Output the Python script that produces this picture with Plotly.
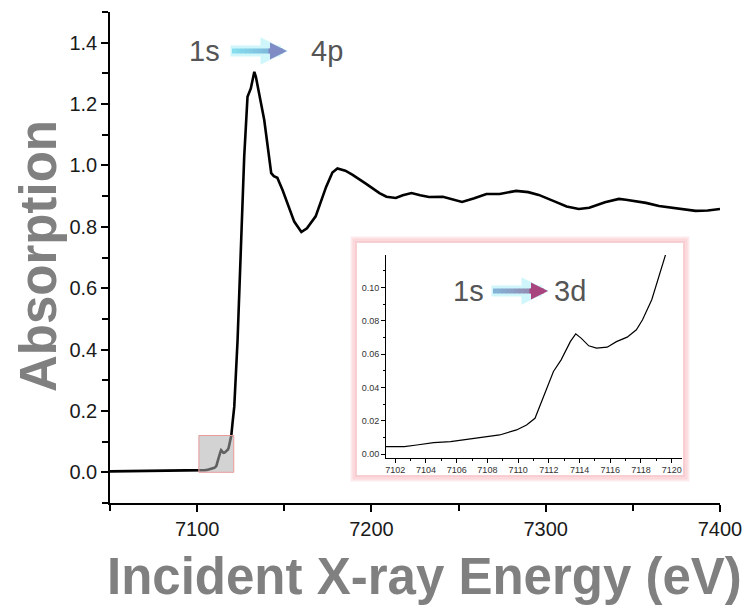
import plotly.graph_objects as go

W, H = 744, 608

# ---------------- data ----------------
energy_ev = [7050, 7070, 7090, 7101.4, 7102.6, 7103.4, 7104.5, 7105.6, 7106.4, 7107.7,
             7108.8, 7109.9, 7110.55, 7111.1, 7111.5, 7112.0, 7112.3, 7112.8, 7113.4, 7113.75,
             7114.1, 7114.6, 7115.1, 7115.8, 7116.4, 7117.1, 7117.7, 7118.1, 7118.7, 7119.1,
             7119.6, 7120.3, 7121.3, 7123.2, 7125.1, 7127.0, 7128.9, 7130.8, 7132.8, 7133.7,
             7138.5, 7142.5, 7144, 7146, 7149, 7155.7, 7159.8, 7163, 7168, 7174,
             7177.6, 7180.5, 7185, 7189, 7197, 7204.6, 7208.6, 7214, 7218, 7223,
             7228, 7233, 7241, 7246, 7252, 7259, 7266, 7273.6, 7283, 7290,
             7296, 7305, 7312, 7319, 7325, 7334, 7342, 7346, 7357.5, 7365,
             7372.4, 7380, 7386, 7393, 7400]
absorption = [0.003, 0.004, 0.004, 0.0046, 0.0046, 0.0056, 0.0070, 0.0076, 0.0086, 0.0102,
              0.0116, 0.0146, 0.0176, 0.0216, 0.0306, 0.0426, 0.0496, 0.0566, 0.0675, 0.0722,
              0.0696, 0.0650, 0.0636, 0.0642, 0.0675, 0.0702, 0.0746, 0.0806, 0.0926, 0.1046,
              0.1196, 0.160, 0.214, 0.431, 0.757, 1.028, 1.224, 1.251, 1.305, 1.289,
              1.148, 0.975, 0.965, 0.960, 0.920, 0.817, 0.783, 0.795, 0.834, 0.930,
              0.977, 0.990, 0.983, 0.970, 0.940, 0.910, 0.898, 0.894, 0.903, 0.910,
              0.903, 0.897, 0.898, 0.891, 0.881, 0.893, 0.907, 0.907, 0.917, 0.913,
              0.904, 0.883, 0.866, 0.858, 0.862, 0.880, 0.891, 0.888, 0.878, 0.868,
              0.862, 0.855, 0.852, 0.853, 0.858]

main_x_range = [7050, 7400]
main_y_range = [-0.1, 1.5]
inset_x_range = [7101.4, 7120.65]
inset_y_range = [-0.0019, 0.1194]
zoom_box_x = [7101, 7121]
zoom_box_y = [0.0, 0.12]

main_title_x = "Incident X-ray Energy (eV)"
main_title_y = "Absorption"
label_4p = ("1s", "4p")
label_3d = ("1s", "3d")

FONT = "Liberation Sans, Arial, sans-serif"


def px(x):
    return x / W


def py(y):
    return (H - y) / H


fig = go.Figure()

fig.add_trace(go.Scatter(x=energy_ev, y=absorption, mode="lines",
                         line=dict(color="black", width=2.6), xaxis="x", yaxis="y",
                         showlegend=False, hoverinfo="skip"))
fig.add_trace(go.Scatter(x=energy_ev, y=absorption, mode="lines",
                         line=dict(color="black", width=1.2), xaxis="x2", yaxis="y2",
                         showlegend=False, hoverinfo="skip"))

shapes = []
# inset frame glow
for off, wdt, col in [(5, 3, "rgba(253,232,234,0.9)"), (3, 3, "rgba(250,210,214,0.85)"),
                      (1, 2, "rgba(246,192,198,0.75)")]:
    shapes.append(dict(type="rect", xref="paper", yref="paper", layer="below",
                       x0=px(357 - off), x1=px(683 + off), y0=py(475 + off), y1=py(243 - off),
                       line=dict(color=col, width=wdt), fillcolor="white"))
# zoom box on main plot
shapes.append(dict(type="rect", xref="x", yref="y", layer="above",
                   x0=zoom_box_x[0], x1=zoom_box_x[1], y0=zoom_box_y[0], y1=zoom_box_y[1],
                   fillcolor="rgba(175,175,175,0.55)", line=dict(color="#e89a9a", width=1)))


def hexmix(c1, c2, t):
    a = [int(c1[i:i + 2], 16) for i in (1, 3, 5)]
    b = [int(c2[i:i + 2], 16) for i in (1, 3, 5)]
    return "rgb(%d,%d,%d)" % tuple(round(a[k] + (b[k] - a[k]) * t) for k in range(3))


annotations = []


def arrow(x0, x1, yy, c_start, c_end):
    # glow
    annotations.append(dict(xref="paper", yref="paper", x=px(x1 + 1), y=py(yy), ax=-(x1 - x0 + 4), ay=0,
                            showarrow=True, arrowhead=2, arrowwidth=11, arrowsize=0.5,
                            arrowcolor="rgba(120,235,245,0.35)", text=""))
    # shaft gradient
    shaft_end = x1 - 12
    n = 10
    for i in range(n):
        a = x0 + (shaft_end - x0) * i / n
        b = x0 + (shaft_end - x0) * (i + 1) / n + 0.5
        shapes.append(dict(type="line", xref="paper", yref="paper", layer="above",
                           x0=px(a), x1=px(b), y0=py(yy), y1=py(yy),
                           line=dict(color=hexmix(c_start, c_end, i / (n - 1) * 0.85), width=5)))
    # head
    annotations.append(dict(xref="paper", yref="paper", x=px(x1), y=py(yy), ax=-20, ay=0,
                            showarrow=True, arrowhead=2, arrowwidth=5, arrowsize=0.68,
                            arrowcolor=c_end, text=""))


def label(txt, x, y, size, color="#555555", angle=0, bold=False):
    annotations.append(dict(xref="paper", yref="paper", x=px(x), y=py(y),
                            text=("<b>%s</b>" % txt) if bold else txt, textangle=angle,
                            showarrow=False, font=dict(family=FONT, size=size, color=color),
                            xanchor="center", yanchor="middle"))


label(label_4p[0], 205, 51, 29)
label(label_4p[1], 327, 51, 29)
arrow(232, 287, 51, "#8fd6ea", "#7f8cc6")

label(label_3d[0], 468, 291, 29)
label(label_3d[1], 570, 291, 29)
arrow(493, 548, 291, "#8c94c6", "#a8457e")

# axis titles
label(main_title_x, 424, 576, 51, color="#808080", bold=True)
label(main_title_y, 38, 256, 51, color="#808080", angle=-90, bold=True)

axis_common = dict(showline=True, linecolor="black", showgrid=False, zeroline=False,
                   ticks="outside", tickcolor="black", mirror=False, automargin=False)

fig.update_layout(
    width=W, height=H, autosize=False,
    margin=dict(l=0, r=0, t=0, b=0, pad=0, autoexpand=False),
    paper_bgcolor="white", plot_bgcolor="rgba(0,0,0,0)",
    shapes=shapes, annotations=annotations,
    xaxis=dict(**axis_common, domain=[px(110), px(720)], anchor="y", range=main_x_range,
               tick0=7100, dtick=100, ticklen=7, tickwidth=1.5, linewidth=1.5,
               minor=dict(ticks="outside", tick0=7050, dtick=50, ticklen=6, tickcolor="black", tickwidth=1.5),
               tickfont=dict(family=FONT, size=20, color="#1a1a1a")),
    yaxis=dict(**axis_common, domain=[py(503), py(12)], anchor="x", range=main_y_range,
               tick0=0, dtick=0.2, tickformat=".1f", ticklen=7, tickwidth=1.5, linewidth=1.5,
               minor=dict(ticks="outside", tick0=0, dtick=0.1, ticklen=6, tickcolor="black", tickwidth=1.5),
               tickfont=dict(family=FONT, size=20, color="#1a1a1a")),
    xaxis2=dict(**axis_common, domain=[px(386), px(681.7)], anchor="y2", range=inset_x_range,
                tick0=7102, dtick=2, ticklen=4, tickwidth=1, linewidth=1,
                minor=dict(ticks="outside", dtick=1, ticklen=2, tickcolor="black"),
                tickfont=dict(family=FONT, size=9, color="#333333")),
    yaxis2=dict(**axis_common, domain=[py(457.5), py(255)], anchor="x2", range=inset_y_range,
                tick0=0, dtick=0.02, tickformat=".2f", ticklen=4, tickwidth=1, linewidth=1,
                minor=dict(ticks="outside", tick0=0, dtick=0.01, ticklen=2, tickcolor="black"),
                tickfont=dict(family=FONT, size=9, color="#333333")),
)

fig.write_html("out.html")
